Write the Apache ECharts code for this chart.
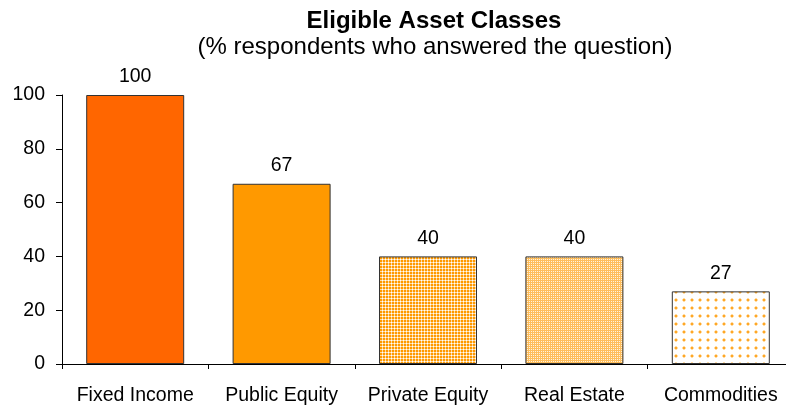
<!DOCTYPE html>
<html><head><meta charset="utf-8">
<script src="https://cdn.jsdelivr.net/npm/echarts@6/dist/echarts.min.js"></script>
<style>html,body{margin:0;padding:0;background:#fff;overflow:hidden}#c{width:800px;height:408px}</style>
</head><body><div id="c"></div>
<script>
const categories = ['Fixed Income','Public Equity','Private Equity','Real Estate','Commodities'];
const values = [100, 67, 40, 40, 27];
const yTicks = [0, 20, 40, 60, 80, 100];

function pat(w, h, draw){
  const c = document.createElement('canvas'); c.width = w; c.height = h;
  const g = c.getContext('2d'); draw(g); return {image: c, repeat: 'repeat'};
}
const fills = [
  '#FF6600',
  '#FF9900',
  pat(3,3,g=>{g.fillStyle='#FF9900';g.fillRect(0,0,3,3);g.fillStyle='#FFD9A0';g.fillRect(1,0,1,3);g.fillRect(0,1,3,1);g.fillStyle='#FFFFFF';g.fillRect(1,1,1,1);}),
  pat(2,2,g=>{g.fillStyle='#FFBE5C';g.fillRect(0,0,2,2);g.fillStyle='#FFF4E0';g.fillRect(1,1,1,1);}),
  pat(8,8,g=>{g.fillStyle='#fff';g.fillRect(0,0,8,8);g.fillStyle='#FFDDA8';g.fillRect(2,3,4,2);g.fillRect(3,2,2,4);g.fillStyle='#FFA726';g.fillRect(3,3,2,2);})
];

const chart = echarts.init(document.getElementById('c'), null, {renderer:'canvas'});
const FF = 'Liberation Sans, Arial, sans-serif';
chart.setOption({
  animation:false,
  title:[
    {text:'Eligible Asset Classes', left:429, top:4, textAlign:'center', textStyle:{fontFamily:FF, fontSize:24, fontWeight:'bold', color:'#000'}},
    {text:'(% respondents who answered the question)', left:430, top:30, textAlign:'center', textStyle:{fontFamily:FF, fontSize:24, fontWeight:'normal', color:'#000'}}
  ],
  grid:{left:62, top:95, width:732, height:269, containLabel:false},
  xAxis:{type:'category', data:categories,
    axisLine:{lineStyle:{color:'#000', width:1}},
    axisTick:{show:true, length:5, inside:false, lineStyle:{color:'#000'}},
    axisLabel:{interval:0, fontFamily:FF, fontSize:19.5, color:'#000', margin:22}},
  yAxis:{type:'value', min:0, max:100, interval:20,
    axisLine:{show:true, lineStyle:{color:'#000'}}, axisTick:{show:true, length:6, lineStyle:{color:'#000'}},
    splitLine:{show:false},
    axisLabel:{fontFamily:FF, fontSize:19.5, color:'#000', margin:17,
      formatter:v=> yTicks.includes(v) ? String(v) : ''}},
  series:[{type:'bar', barWidth:98,
    data: values.map((v,i)=>({value:v, itemStyle:{color:fills[i]}})),
    itemStyle:{borderColor:'#333', borderWidth:1},
    label:{show:true, position:'top', distance:8, fontFamily:FF, fontSize:19.5, color:'#000'}
  }]
});
</script></body></html>
